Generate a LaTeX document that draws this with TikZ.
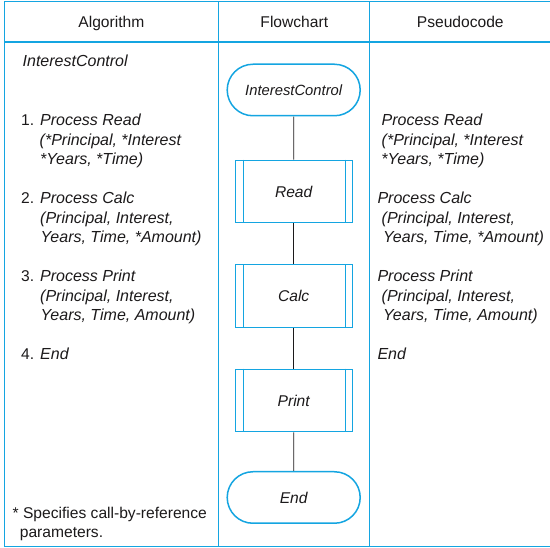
\documentclass[tikz,border=0pt]{standalone}
\usepackage{fontspec}
\setmainfont{Liberation Sans}
\usetikzlibrary{shapes.misc}
\definecolor{frameblue}{RGB}{20,165,225}
\definecolor{ink}{RGB}{28,26,27}
\newcommand\diabody{\fontsize{15.6}{19.5}\selectfont}
\newcommand\diaital{\fontsize{16}{19.5}\selectfont\itshape}
\newcommand\diasmall{\fontsize{14.8}{18}\selectfont}
\begin{document}
\begin{tikzpicture}[x=1pt,y=-1pt,
  frame/.style={draw=frameblue, line width=1.3pt},
  term/.style={rounded rectangle, draw=frameblue, line width=1.5pt, minimum width=133pt, minimum height=51.5pt, inner sep=0pt, text=ink, font=\diabody\itshape, text height=11.2pt, text depth=0pt},
  proc/.style={rectangle, draw=frameblue, line width=1.1pt, minimum width=117pt, minimum height=62.5pt, inner sep=0pt, text=ink, font=\diabody\itshape, text height=11.2pt, text depth=0pt},
  bar/.style={draw=frameblue, line width=1.1pt},
  link/.style={draw=ink, line width=0.9pt},
  txt/.style={anchor=base west, inner sep=0pt, text=ink, font=\diabody},
  ittxt/.style={anchor=base west, inner sep=0pt, text=ink, font=\diaital},
  hdr/.style={anchor=base, inner sep=0pt, text=ink, font=\diabody}]
\useasboundingbox (0,0) rectangle (550,548);
\fill[white] (0,0) rectangle (550,548);
% table frame
\draw[frame] (4.7,1.3) rectangle (553,546.3);
\draw[frame] (4.7,42) -- (553,42);
\draw[frame] (218.3,1.3) -- (218.3,546.3);
\draw[frame] (369.7,1.3) -- (369.7,546.3);
% headers
\node[hdr] (h1) at (111.4,27.5) {Algorithm};
\node[hdr] (h2) at (294.3,27.5) {Flowchart};
\node[hdr] (h3) at (460.3,27.5) {Pseudocode};
% algorithm column
\node[ittxt] (a0) at (22.5,67) {InterestControl};
\node[txt] (n1) at (21,126) {1.};
\node[ittxt] (a1a) at (40,126) {Process Read};
\node[ittxt] (a1b) at (39.5,145.5) {(*Principal, *Interest};
\node[ittxt] (a1c) at (40,165) {*Years, *Time)};
\node[txt] (n2) at (21,204) {2.};
\node[ittxt] (a2a) at (40,204) {Process Calc};
\node[ittxt] (a2b) at (40,223.5) {(Principal, Interest,};
\node[ittxt] (a2c) at (40.5,243) {Years, Time, *Amount)};
\node[txt] (n3) at (21,282) {3.};
\node[ittxt] (a3a) at (40,282) {Process Print};
\node[ittxt] (a3b) at (40,301.5) {(Principal, Interest,};
\node[ittxt] (a3c) at (40.5,321) {Years, Time, Amount)};
\node[txt] (n4) at (21,360) {4.};
\node[ittxt] (a4a) at (40,360) {End};
\node[txt] (fn1) at (12.5,518.5) {* Specifies call-by-reference};
\node[txt] (fn2) at (19.7,538) {parameters.};
% pseudocode column
\node[ittxt] (p1a) at (381.5,126) {Process Read};
\node[ittxt] (p1b) at (381.5,145.5) {(*Principal, *Interest};
\node[ittxt] (p1c) at (381.2,165) {*Years, *Time)};
\node[ittxt] (p2a) at (377.3,204) {Process Calc};
\node[ittxt] (p2b) at (381.5,223.5) {(Principal, Interest,};
\node[ittxt] (p2c) at (383,243) {Years, Time, *Amount)};
\node[ittxt] (p3a) at (377.3,282) {Process Print};
\node[ittxt] (p3b) at (381.5,301.5) {(Principal, Interest,};
\node[ittxt] (p3c) at (383,321) {Years, Time, Amount)};
\node[ittxt] (p4a) at (377.3,360) {End};
% flowchart
\node[term, font=\diasmall\itshape] (start) at (293.7,90) {InterestControl};
\node[proc] (read) at (293.7,191.5) {Read};
\node[proc] (calc) at (293.7,296.2) {Calc};
\node[proc] (print) at (293.7,400.5) {Print};
\node[term] (end) at (293.7,497.5) {End};
\foreach \b in {read,calc,print}{
  \draw[bar] ([xshift=9pt]\b.north west) -- ([xshift=9pt]\b.south west);
  \draw[bar] ([xshift=-7pt]\b.north east) -- ([xshift=-7pt]\b.south east);
}
\draw[link] (start) -- (read);
\draw[link] (read) -- (calc);
\draw[link] (calc) -- (print);
\draw[link] (print) -- (end);
\end{tikzpicture}
\end{document}
